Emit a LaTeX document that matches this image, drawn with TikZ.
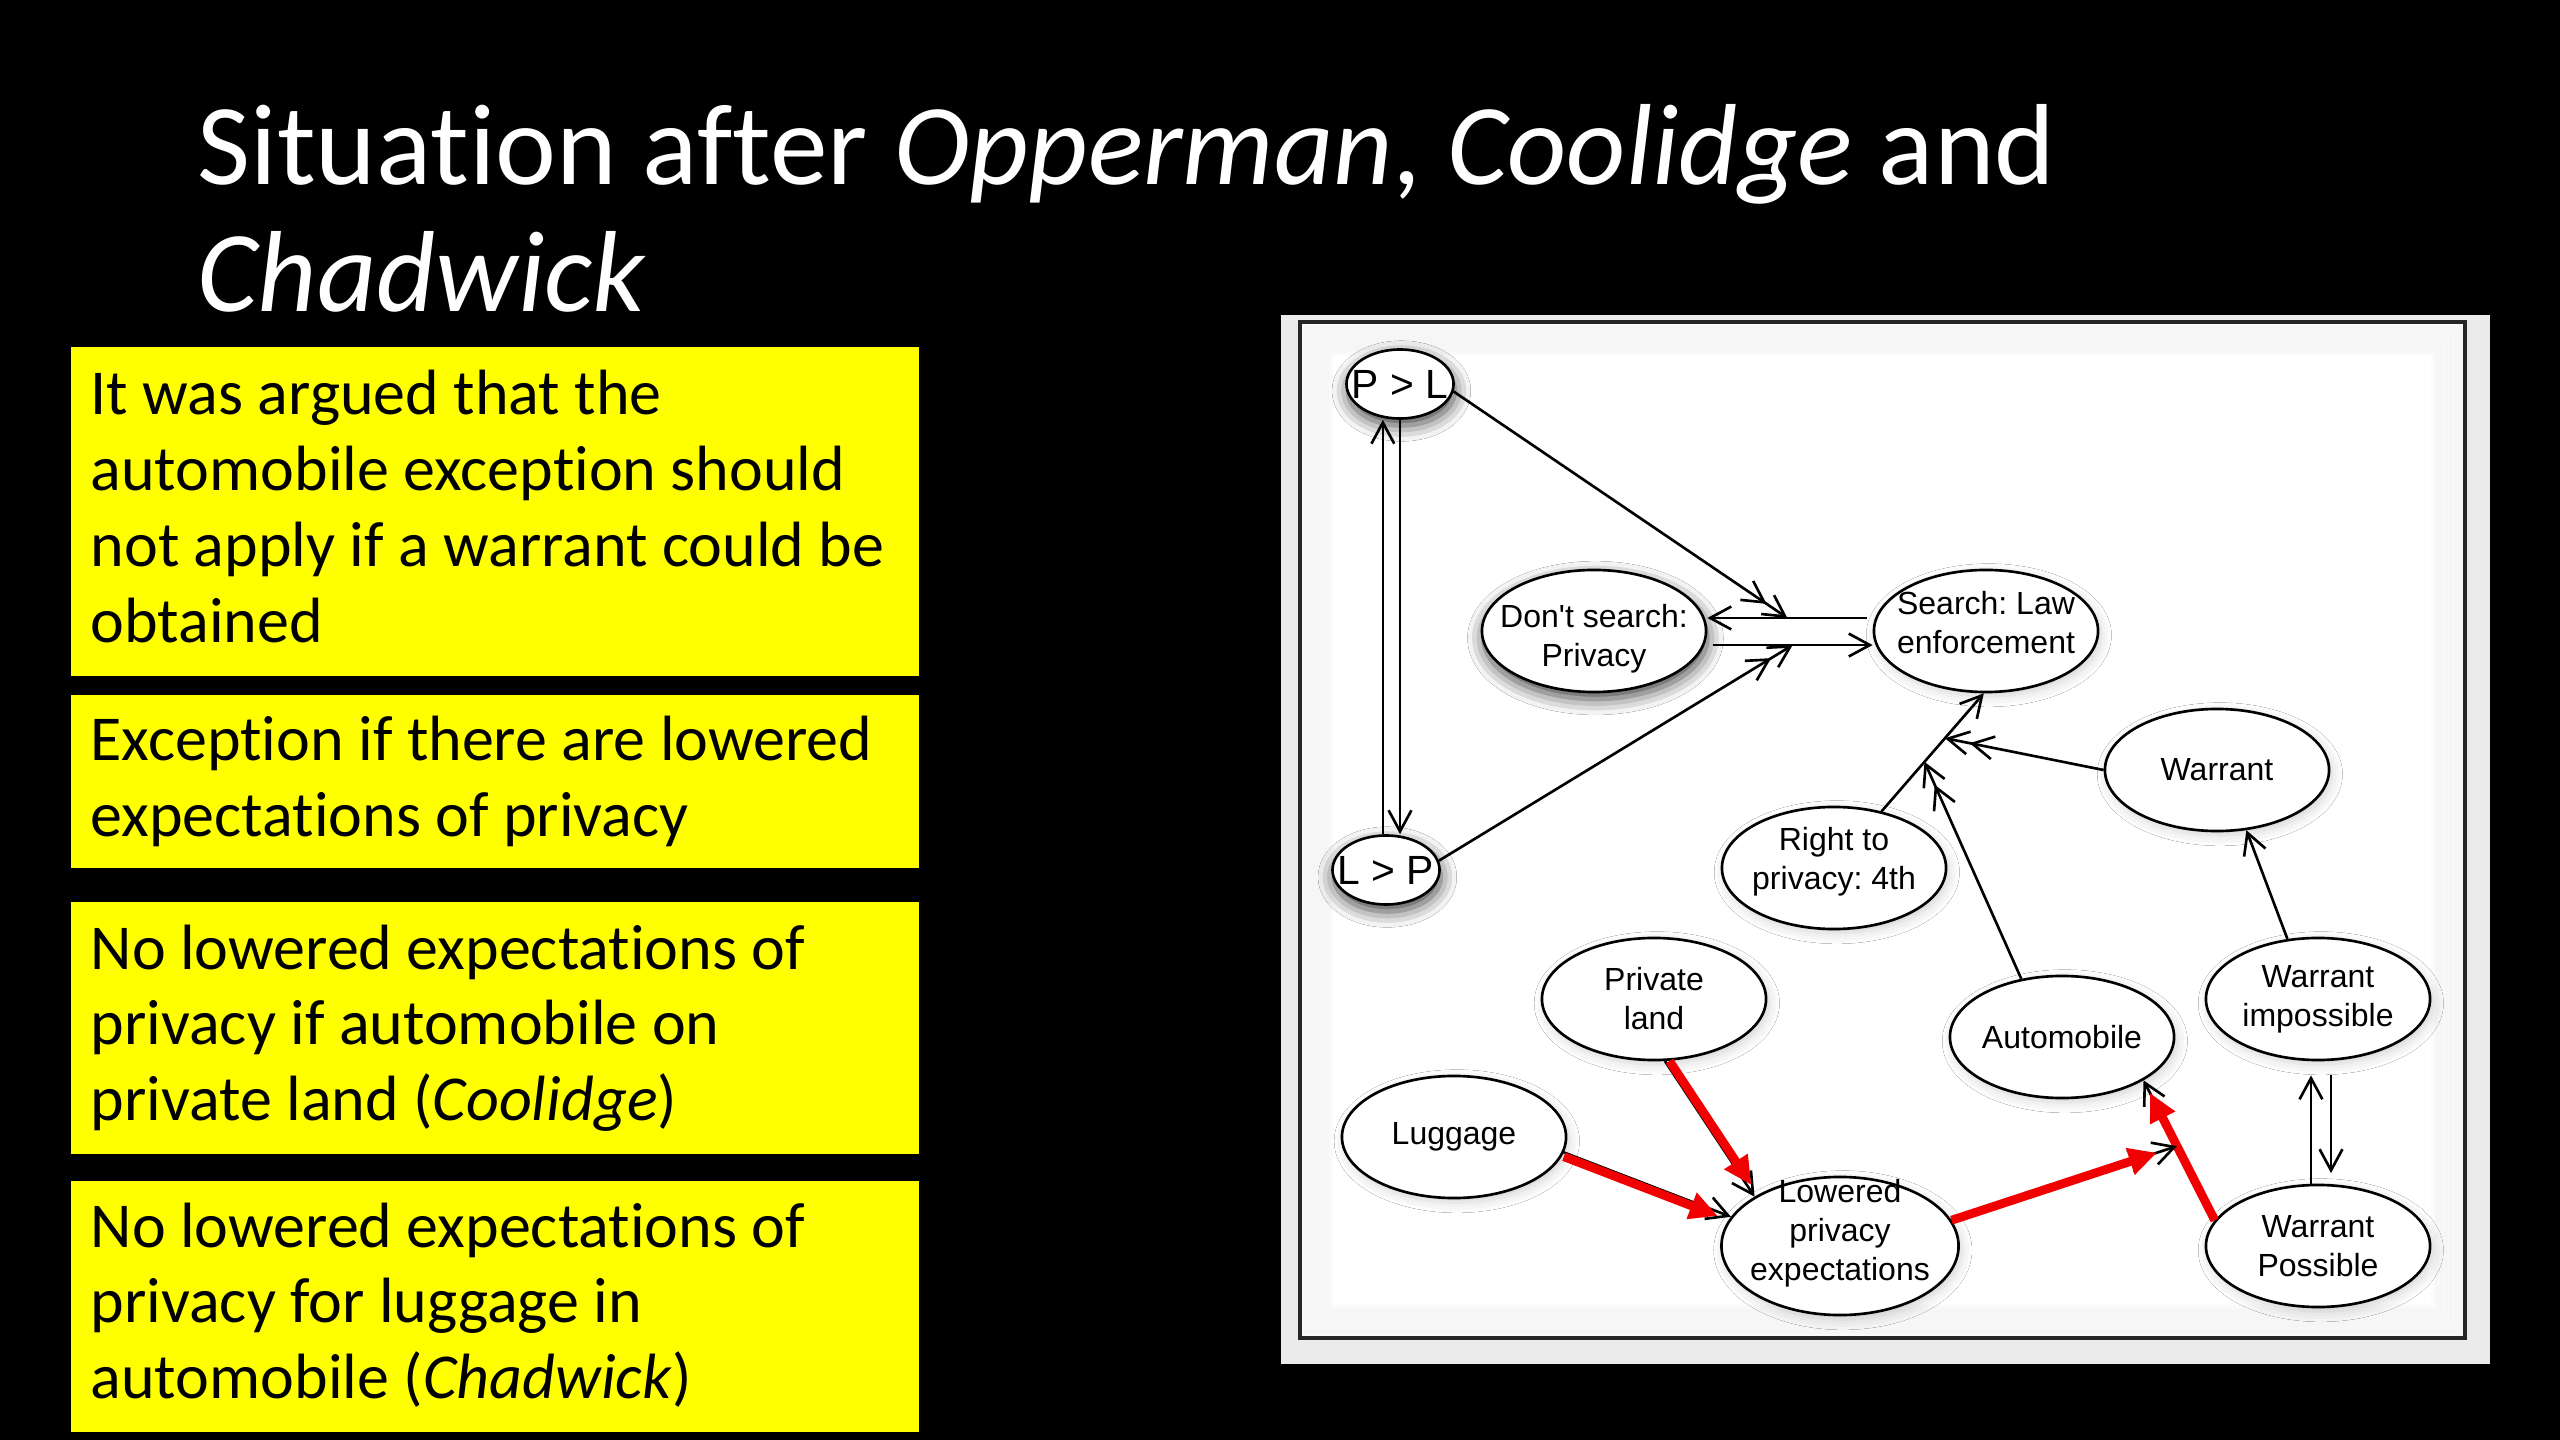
\documentclass[tikz,border=0pt]{standalone}
\usepackage{fontspec}
\setmainfont{Carlito}[Ligatures=NoCommon]
\newfontfamily\nodefont{Liberation Sans}
\usetikzlibrary{arrows.meta,shapes.geometric,shadows.blur,calc}
\definecolor{ylw}{HTML}{FFFF00}
\definecolor{redarr}{HTML}{F00000}
\frenchspacing
\newcommand{\tightsp}{\spaceskip=0.226em\relax\xspaceskip=0.226em\relax}
\tikzset{
  ndbase/.style={ellipse, draw=black, line width=0.75pt, fill=white, inner sep=-10pt,
    minimum width=2.24cm, minimum height=1.22cm, align=center,
    font=\nodefont\fontsize{9.1}{11.1}\selectfont},
  nd/.style={ndbase, blur shadow={shadow xshift=0.8pt, shadow yshift=-1.2pt, shadow blur radius=3pt, shadow opacity=18}},
  ndd/.style={ndbase, blur shadow={shadow xshift=0.4pt, shadow yshift=-2pt, shadow blur radius=4.5pt, shadow opacity=75}},
  ntxt/.style={inner sep=0pt, align=center, font=\nodefont\fontsize{9.1}{11.1}\selectfont},
  small/.style={minimum width=1.07cm, minimum height=0.69cm, font=\nodefont\fontsize{11.6}{13}\selectfont},
  ar/.style={line width=0.75pt, -{Straight Barb[length=6pt,width=6.5pt]}},
  ar2/.style={line width=0.75pt, -{Straight Barb[length=6pt,width=6.5pt] Straight Barb[length=6pt,width=6.5pt]}},
  rd/.style={line width=2.5pt, draw=redarr, -{Triangle[length=8pt,width=7.5pt]}, shorten >=4pt},
  ybox/.style={fill=ylw, draw=none, anchor=north west, minimum width=8.48cm, inner sep=0pt},
  btxt/.style={anchor=base west, inner sep=0pt, align=left, text width=10cm, text=black,
    font=\fontsize{18.2}{21.6}\selectfont},
  ttl/.style={anchor=base west, inner sep=0pt, text=white, font=\fontsize{32.8}{36}\selectfont}
}
\begin{document}
\begin{tikzpicture}[x=0.01cm,y=-0.01cm]
% background
\fill[black] (0,0) rectangle (2560,1440);
\useasboundingbox (0,0) rectangle (2560,1440);

% title
\node[ttl] (title1) at (197,185) {Situation after \textit{Opperman}, \textit{Coolidge} and};
\node[ttl] (title2) at (197,312) {\textit{Chadwick}};

% yellow boxes
\node[ybox, minimum height=3.29cm] (b1) at (70,346) {};
\node[ybox, minimum height=1.73cm] (b2) at (70,694) {};
\node[ybox, minimum height=2.52cm] (b3) at (70,901) {};
\node[ybox, minimum height=2.51cm] (b4) at (70,1180) {};
\node[btxt] (x1) at (90,415) {\tightsp It was argued that the\\automobile exception should\\not apply if a warrant could be\\obtained};
\node[btxt] (x2) at (90,761) {\tightsp Exception if there are lowered\\expectations of privacy};
\node[btxt] (x3) at (90,969) {\tightsp No lowered expectations of\\privacy if automobile on\\private land (\textit{Coolidge})};
\node[btxt] (x4) at (90,1247) {\tightsp No lowered expectations of\\privacy for luggage in\\automobile (\textit{Chadwick})};

% diagram panel
\fill[black!8] (1281,315) rectangle (2490,1364);
\fill[white] (1300,322) rectangle (2465,1338);
\foreach \i in {0,...,11}{
  \draw[black, opacity=0.012, line width=2pt] (1303+2.5*\i,325+2.5*\i) rectangle (2462-2.5*\i,1335-2.5*\i);
}
\draw[line width=0.9pt, draw=black!85] (1300,322) rectangle (2465,1338);

% nodes
\node[ndd, small] (PL) at (1400,384) {P > L};
\node[ndd, small] (LP) at (1386,870) {L > P};
\node[ndd] (DS) at (1594,631) {};
\node[ntxt] (DSt) at (1594,639) {Don't search:\\Privacy};
\node[nd] (SE) at (1986,631) {};
\node[ntxt] (SEt) at (1986,623) {Search: Law\\enforcement};
\node[nd] (WA) at (2217,770) {Warrant};
\node[nd] (RP) at (1834,868) {};
\node[ntxt] (RPt) at (1834,862) {Right to\\privacy: 4th};
\node[nd] (PV) at (1654,999) {Private\\land};
\node[nd] (AU) at (2062,1037) {Automobile};
\node[nd] (WI) at (2318,999) {Warrant\\impossible};
\node[nd] (LU) at (1454,1137) {Luggage};
\node[nd, minimum width=2.37cm, minimum height=1.38cm] (LO) at (1840,1246) {};
\node[ntxt] (LOt) at (1840,1233) {Lowered\\privacy\\expectations};
\node[nd] (WP) at (2318,1246) {Warrant\\Possible};

% P>L <-> L>P
\draw[ar] ([xshift=-0.9pt]LP.north) -- ([xshift=-0.9pt]LP.north |- PL.south);
\draw[ar] (PL.south) -- (PL.south |- LP.north);

% Don't search <-> Search
\coordinate (dsu) at ([yshift=3.7pt]DS.east);
\coordinate (seu) at ([xshift=-1.5pt,yshift=3.7pt]SE.west);
\coordinate (dsl) at ([xshift=1.5pt,yshift=-4pt]DS.east);
\coordinate (sel) at ([yshift=-4pt]SE.west);
\draw[ar] (seu) -- (dsu);
\draw[ar] (dsl) -- (sel);
\coordinate (t1) at ($(dsu)!0.5!(seu)$);
\coordinate (t2) at ($(dsl)!0.5!(sel)$);
\draw[ar2] (PL.-8) -- (t1);
\draw[ar2] (LP.10) -- (t2);

% Right to privacy -> Search, with attacks
\draw[ar] (RP.50) -- (SE.268);
\coordinate (t3) at ($(RP.50)!0.62!(SE.268)$);
\coordinate (t4) at ($(RP.50)!0.42!(SE.268)$);
\draw[ar2] (WA.west) -- (t3);
\draw[ar2] (AU.125) -- (t4);
\draw[ar] (WI.117) -- (WA.296);
\draw[ar, shorten >=4pt] ([xshift=-2pt]WP.north) -- ([xshift=-2pt]WP.north |- WI.south);
\draw[ar, shorten <=4pt, shorten >=3pt] ([xshift=3.7pt]WI.south) -- ([xshift=3.7pt]WI.south |- WP.north);

% red edges
\draw[ar] (LU.-8) -- (LO.165);
\draw[rd] ([yshift=-1.2pt]LU.-8) -- ([yshift=-1.2pt]LO.165);
\draw[ar] (PV.-80) -- (LO.150);
\draw[rd] ([xshift=1.3pt]PV.-80) -- ([xshift=1.3pt]LO.150);
\draw[ar] (WP.166) -- (AU.-28);
\draw[rd] (WP.166) -- (AU.-28);
\coordinate (t5) at ($(WP.166)!0.53!(AU.-28)$);
\draw[ar2] (LO.13) -- (t5);
\draw[rd, shorten >=6pt] (LO.13) -- (t5);
\end{tikzpicture}
\end{document}
